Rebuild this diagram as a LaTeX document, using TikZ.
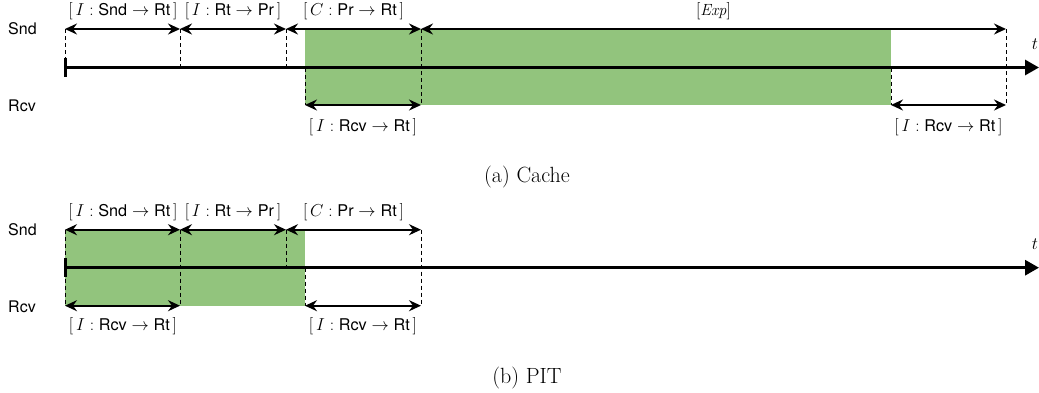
\documentclass[tikz,border=0pt]{standalone}
\usepackage{fontspec}
\setsansfont{TeX Gyre Heros}
\usetikzlibrary{arrows.meta}
\definecolor{cgreen}{RGB}{146,196,125}
\newcommand{\dimlab}[3]{$[\,#1:\textsf{#2}\rightarrow\textsf{#3}\,]$}
\tikzset{
  tipa/.tip={Stealth[length=12pt,width=11pt,inset=4pt]},
  dimarrow/.style={line width=1.8pt, tipa-tipa},
  guide/.style={line width=0.9pt, dash pattern=on 4pt off 3pt},
  axis/.style={line width=3pt, -{Triangle[length=14pt,width=15pt]}},
  tick/.style={line width=3pt},
  lab/.style={font=\fontsize{16.2}{19}\selectfont, inner sep=0pt},
  rowlab/.style={font=\sffamily\fontsize{16}{19}\selectfont, anchor=west, inner sep=0pt},
  caplab/.style={font=\fontsize{22}{26}\selectfont, inner sep=0pt},
  greenbox/.style={fill=cgreen, draw=none},
}
\begin{document}
\begin{tikzpicture}[x=1pt,y=-1pt]
\useasboundingbox (0,0) rectangle (1039,392);

% ================= (a) Cache =================
\fill[greenbox] (305,29) rectangle (891,105);
\coordinate (aS0) at (65,29);  \coordinate (aS1) at (180,29); \coordinate (aS2) at (286,29);
\coordinate (aS3) at (421,29); \coordinate (aS4) at (1006,29);
\coordinate (aT0) at (65,67.5); \coordinate (aT1) at (180,67.5); \coordinate (aT2) at (286,67.5);
\coordinate (aT5) at (305,67.5); \coordinate (aT6) at (891,67.5);
\coordinate (aR5) at (305,105); \coordinate (aR3) at (421,105);
\coordinate (aR6) at (891,105); \coordinate (aR4) at (1006,105);
\coordinate (aEnd) at (1039,67.5);
\coordinate (aTickTop) at (65,57.5); \coordinate (aTickBot) at (65,76.5);
\draw[guide] (aS0) -- (aT0);
\draw[guide] (aS1) -- (aT1);
\draw[guide] (aS2) -- (aT2);
\draw[guide] (aS3) -- (aR3);
\draw[guide] (aS4) -- (aR4);
\draw[guide] (aT5) -- (aR5);
\draw[guide] (aT6) -- (aR6);
\draw[dimarrow] (aS0) -- (aS1);
\draw[dimarrow] (aS1) -- (aS2);
\draw[dimarrow] (aS2) -- (aS3);
\draw[dimarrow] (aS3) -- (aS4);
\draw[dimarrow] (aR5) -- (aR3);
\draw[dimarrow] (aR6) -- (aR4);
\draw[axis] (aT0) -- (aEnd);
\draw[tick] (aTickTop) -- (aTickBot);
\node[lab] (at) at (1035,44) {$t$};
\node[rowlab] (asnd) at (8,29) {Snd};
\node[rowlab] (arcv) at (8,106) {Rcv};
\node[lab] (al1) at (123,11.5) {\dimlab{I}{Snd}{Rt}};
\node[lab] (al2) at (233,11.5) {\dimlab{I}{Rt}{Pr}};
\node[lab] (al3) at (353.5,11.5) {\dimlab{C}{Pr}{Rt}};
\node[lab] (al4) at (713.5,11.5) {$[\mathit{Exp}]$};
\node[lab] (al5) at (363,127.5) {\dimlab{I}{Rcv}{Rt}};
\node[lab] (al6) at (948.5,127.5) {\dimlab{I}{Rcv}{Rt}};
\node[caplab] (acap) at (527,177) {(a) Cache};

% ================= (b) PIT =================
\fill[greenbox] (65,229.7) rectangle (305,305.7);
\coordinate (bS0) at (65,229.7);  \coordinate (bS1) at (180,229.7); \coordinate (bS2) at (286,229.7);
\coordinate (bS3) at (421,229.7);
\coordinate (bT0) at (65,267.7); \coordinate (bT2) at (286,267.7); \coordinate (bT5) at (305,267.7);
\coordinate (bR0) at (65,305.7); \coordinate (bR1) at (180,305.7);
\coordinate (bR5) at (305,305.7); \coordinate (bR3) at (421,305.7);
\coordinate (bEnd) at (1039,267.7);
\coordinate (bTickTop) at (65,257.7); \coordinate (bTickBot) at (65,276.7);
\draw[guide] (bS0) -- (bR0);
\draw[guide] (bS1) -- (bR1);
\draw[guide] (bS2) -- (bT2);
\draw[guide] (bS3) -- (bR3);
\draw[guide] (bT5) -- (bR5);
\draw[dimarrow] (bS0) -- (bS1);
\draw[dimarrow] (bS1) -- (bS2);
\draw[dimarrow] (bS2) -- (bS3);
\draw[dimarrow] (bR0) -- (bR1);
\draw[dimarrow] (bR5) -- (bR3);
\draw[axis] (bT0) -- (bEnd);
\draw[tick] (bTickTop) -- (bTickBot);
\node[lab] (bt) at (1035,244) {$t$};
\node[rowlab] (bsnd) at (8,229.7) {Snd};
\node[rowlab] (brcv) at (8,306.7) {Rcv};
\node[lab] (bl1) at (123,212) {\dimlab{I}{Snd}{Rt}};
\node[lab] (bl2) at (233,212) {\dimlab{I}{Rt}{Pr}};
\node[lab] (bl3) at (353.5,212) {\dimlab{C}{Pr}{Rt}};
\node[lab] (bl5) at (123,326) {\dimlab{I}{Rcv}{Rt}};
\node[lab] (bl6) at (363,326) {\dimlab{I}{Rcv}{Rt}};
\node[caplab] (bcap) at (527,378) {(b) PIT};
\end{tikzpicture}
\end{document}
